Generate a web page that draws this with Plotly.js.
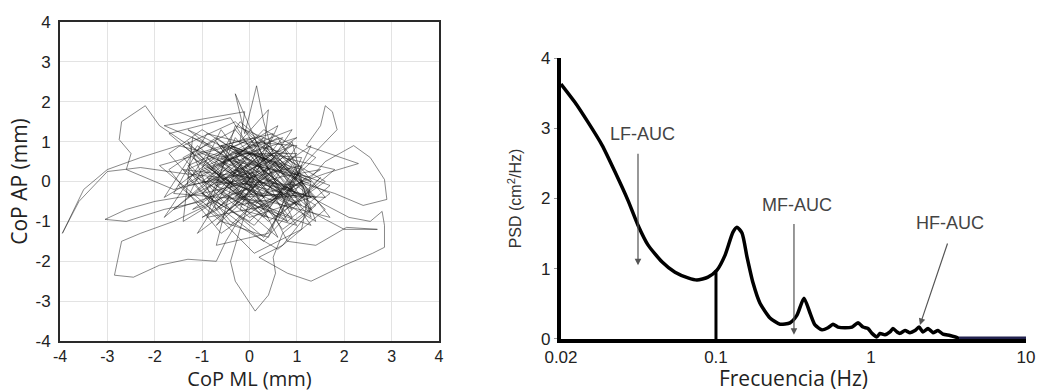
<!DOCTYPE html>
<html>
<head>
<meta charset="utf-8">
<script src="https://cdn.plot.ly/plotly-3.0.1.min.js"></script>
<style>
  html, body { margin: 0; padding: 0; background: #ffffff; }
  #chart { width: 1044px; height: 392px; }
</style>
</head>
<body>
<div id="chart"></div>
<script>
// ---------- Left panel: CoP trajectory (ML, AP) in mm ----------
const copPath = [
  [0.0,0.1],[-0.6,0.9],[0.5,1.2],[-0.3,-0.6],[1.2,-0.3],[0.1,0.8],[-1.3,0.1],[-0.4,-1.1],[0.9,0.4],[-0.2,1.5],
  [-0.8,0.3],[0.6,-0.9],[1.5,0.1],[0.3,-1.5],[-0.9,-0.4],[-1.7,0.7],[-1.0,1.3],[0.2,0.4],[1.3,-0.7],[0.7,-1.6],
  [0.2,-1.9],[0.8,-2.3],[1.3,-2.5],[2.0,-2.1],[2.6,-1.8],[2.85,-1.65],[2.85,-1.1],[2.8,-0.75],[2.55,-1.0],[2.1,-0.9],
  [1.3,-0.4],[0.6,-0.1],
  [-0.3,0.6],[1.0,1.1],[-1.2,-0.7],[-0.1,-0.2],[0.8,0.7],[-0.9,1.2],[-1.6,-0.3],[0.4,-0.5],[1.7,-0.9],[0.9,0.3],
  [-0.4,0.9],[-1.9,0.4],[-0.6,-0.9],[0.3,0.1],[1.3,0.9],[0.4,-1.3],[-0.7,-1.6],[-0.3,0.3],[0.9,-0.2],[-1.0,0.7],
  [-1.4,1.0],[-1.9,1.4],[-2.2,1.9],[-2.7,1.5],[-2.75,1.05],[-2.5,0.7],[-2.6,0.3],[-2.2,0.1],[-1.6,-0.2],[-0.9,0.0],
  [-0.4,0.7],[0.6,1.4],[-0.2,-0.7],[1.0,-1.1],[0.0,0.3],[-1.2,1.1],[-1.4,-1.0],[-0.3,-0.2],[0.7,0.6],[1.8,0.3],
  [0.9,-0.6],[-0.6,0.4],[0.3,1.1],[-0.9,-0.6],[0.1,-1.8],[1.1,-1.2],[1.3,0.0],[-0.1,0.8],[-1.3,-0.1],[0.4,0.3],
  [0.0,1.4],[-0.3,2.2],[-0.1,1.2],[0.15,2.4],[0.3,1.5],[0.5,0.7],
  [-0.3,0.0],[1.1,-0.4],[-0.7,1.1],[-1.7,0.3],[-0.6,-1.3],[0.6,-0.3],[1.4,0.6],[0.3,1.3],[-1.0,-0.3],[0.0,-1.0],
  [1.0,0.1],[-0.4,0.6],[-1.8,-0.4],[-1.1,0.9],[0.1,-0.3],[1.6,-0.4],[0.7,0.9],[-0.3,1.4],[-0.9,-0.9],[0.4,-0.6],
  [1.2,0.5],[1.6,1.0],[1.85,1.3],[1.75,1.75],[1.6,1.9],[1.5,1.4],[1.2,0.9],[2.3,0.45],[1.6,0.2],[0.9,-0.1],
  [0.3,0.7],[-0.7,-0.1],[0.8,-1.0],[1.7,-0.1],[0.6,0.4],[-0.4,-0.7],[-1.4,0.6],[-0.3,1.3],[0.7,-0.1],[1.3,-1.1],
  [0.1,-0.6],[-1.0,0.3],[-0.1,0.7],[1.1,0.6],[0.4,-1.4],[-0.6,-1.0],[-1.5,-0.1],[-0.4,0.9],[0.6,0.0],[1.4,-0.6],
  [0.7,-1.3],[0.5,-1.9],[0.55,-2.3],[0.4,-2.85],[0.12,-3.25],[-0.3,-2.5],[-0.4,-2.0],[-0.2,-1.2],[0.0,-0.5],
  [-0.9,0.4],[0.3,1.0],[1.0,-0.4],[-0.3,-0.3],[-1.3,1.0],[-0.7,-0.7],[0.6,0.7],[1.6,0.0],[0.4,-1.0],[-0.6,0.1],
  [-1.7,1.2],[-0.4,1.6],[0.3,0.3],[1.3,-0.9],[0.9,1.0],[-0.1,-0.4],[-1.1,-1.3],[-0.1,0.6],[0.7,-0.3],[-0.3,1.1],
  [-0.9,-0.6],[-1.6,-1.0],[-2.3,-1.3],[-2.7,-1.5],[-2.85,-2.35],[-2.45,-2.4],[-1.9,-2.1],[-1.3,-1.95],[-0.7,-2.0],[-0.5,-1.5],
  [-0.2,-0.9],
  [0.4,-0.3],[-0.6,0.9],[1.1,0.3],[0.1,-1.1],[-1.0,-0.3],[0.0,0.7],[0.9,-0.7],[-0.4,0.0],[-1.4,0.9],[-0.3,1.5],
  [0.7,0.4],[1.6,-0.7],[0.6,-1.7],[-0.4,-1.0],[-1.3,0.3],[-0.1,1.0],[1.0,0.9],[0.3,-0.4],[-0.7,0.6],[1.3,0.1],
  [1.6,0.5],[2.2,0.9],[2.55,0.6],[2.85,0.05],[2.9,-0.45],[2.4,-0.6],[1.8,-0.3],[1.0,0.0],
  [0.4,0.6],[-0.9,0.0],[0.0,-0.9],[1.3,-0.4],[0.6,1.1],[-0.4,0.4],[-1.6,-0.7],[-0.6,-0.3],[0.3,0.9],[1.1,-0.1],
  [0.1,-0.7],[-1.2,0.6],[-0.3,-0.1],[0.9,0.6],[1.4,-1.0],[0.4,-0.3],[-0.6,1.3],[-1.3,-0.4],[0.0,0.4],[1.0,-0.6],
  [-0.5,0.6],[-1.5,0.9],[-2.3,0.6],[-3.0,0.3],[-3.5,-0.2],[-3.95,-1.3],[-3.6,-0.5],[-3.0,0.25],[-2.3,0.35],[-1.4,0.2],
  [-0.6,0.1],
  [0.3,-0.4],[-0.4,0.7],[0.9,1.3],[0.0,-0.3],[-1.0,-0.9],[0.6,0.3],[1.7,-0.3],[0.7,-1.2],[-0.3,0.4],[-1.3,1.3],
  [-0.1,0.6],[1.1,0.0],[0.3,-1.4],[-0.7,-0.4],[0.4,0.9],[1.3,-0.4],[-0.6,0.3],[-1.8,-0.9],[-0.9,0.7],[0.1,0.0],
  [-1.0,-0.3],[-2.0,-0.5],[-2.6,-0.7],[-3.05,-0.95],[-2.6,-1.0],[-1.8,-0.7],[-1.0,-0.5],
  [-0.3,0.3],[0.7,-0.3],[-0.1,1.3],[1.0,0.4],[0.3,-0.9],[-0.9,0.6],[0.0,-0.1],[1.3,-0.7],[0.4,0.7],[-0.6,-0.6],
  [-1.3,0.4],[0.1,1.1],[0.9,-0.9],[-0.3,-0.3],[0.6,0.1],[1.5,0.3],[0.3,-0.6],[-0.7,1.0],[-0.1,0.0],[1.1,-0.1],
  [1.2,-0.7],[2.0,-1.2],[2.7,-1.2],[2.05,-1.15],[1.4,-1.6],[0.8,-1.5],[0.5,-0.8],
  [-0.1,0.4],[0.9,0.9],[-0.6,-0.3],[0.4,-0.9],[-1.1,0.7],[0.0,1.1],[1.1,-0.6],[0.1,0.1],[-0.7,-1.1],[0.7,0.4],
  [-0.4,0.9],[1.3,0.0],[0.3,-0.3],[-0.9,0.1],[0.6,-1.4],[-0.3,0.7],[1.0,0.7],[-0.1,-0.6],[-1.4,0.3],[0.0,0.1],
  [-0.8,0.9],[-1.8,1.4],[-0.1,1.75],[-0.2,1.0],[0.4,1.8],[0.3,0.8],
  [1.2,0.1],[0.3,-0.7],[-0.6,0.6],[0.7,1.1],[-0.3,-0.4],[1.0,-0.3],[0.0,0.9],[-1.0,0.0],[0.4,-0.1],[1.4,-0.4],
  [0.6,0.6],[-0.4,0.1],[0.8,-1.0],[0.1,0.7],[-0.7,-0.1],[1.1,0.4],[0.9,-0.2],[0.85,-0.05],[0.95,0.0],[0.6,-1.0]
];
const copML = copPath.map(p => p[0]);
const copAP = copPath.map(p => p[1]);
const copTickVals = [-4, -3, -2, -1, 0, 1, 2, 3, 4];
const copTickText = ['-4', '-3', '-2', '-1', '0', '1', '2', '3', '4'];

// ---------- Right panel: PSD vs frequency (axis units; first tick is labelled 0.02) ----------
const psdFreq = [0.0100,0.0123,0.0149,0.0184,0.0223,0.0271,0.0314,0.0364,0.0448,0.0544,
                 0.0660,0.0754,0.0888,0.1015,0.1143,0.1287,0.1366,0.1472,0.1585,0.1733,
                 0.1923,0.2231,0.2588,0.3002,0.3331,0.3696,0.4042,0.4352,0.4830,0.528,
                 0.5687,0.6126,0.6797,0.7542,0.8246,0.8879,0.9564,1.015,1.093,1.143,
                 1.231,1.326,1.387,1.472,1.539,1.658,1.785,1.923,2.040,2.166,
                 2.332,2.512,2.705,2.914,3.234,3.587,3.70];
const psdPower = [3.63,3.37,3.09,2.76,2.38,1.97,1.62,1.34,1.10,0.95,
                  0.87,0.84,0.88,0.98,1.19,1.52,1.59,1.51,1.17,0.80,
                  0.51,0.30,0.21,0.23,0.34,0.58,0.37,0.20,0.13,0.16,
                  0.21,0.17,0.16,0.17,0.23,0.17,0.15,0.08,0.03,0.08,
                  0.06,0.10,0.15,0.10,0.08,0.12,0.09,0.12,0.17,0.10,
                  0.15,0.09,0.12,0.07,0.05,0.02,0.0];
const psdTickVals = [0.01, 0.1, 1, 10];
const psdTickText = ['0.02', '0.1', '1', '10'];
const bandLineFreq = [0.1, 0.1];
const bandLinePower = [0, 0.98];
const baselineFreq = [3.7, 10];
const baselinePower = [0, 0];

// Band labels and arrows (frequency, PSD)
const bandNames = ['LF-AUC', 'MF-AUC', 'HF-AUC'];
const labelFreq = [0.0338, 0.3331, 3.234];
const labelPower = [2.92, 1.91, 1.65];
const arrowTailFreq = [0.0314, 0.3185, 3.14];
const arrowTailPower = [2.66, 1.66, 1.38];
const arrowHeadFreq = [0.0314, 0.3185, 2.07];
const arrowHeadPower = [1.05, 0.06, 0.20];

const leftTickFont = {family: 'Liberation Sans, Arial, sans-serif', size: 16, color: '#222'};
const rightTickFont = {family: 'Liberation Sans, Arial, sans-serif', size: 17, color: '#222'};
const titleFamily = 'Open Sans, Liberation Sans, sans-serif';

const traces = [
  {x: copML, y: copAP, type: 'scatter', mode: 'lines', xaxis: 'x', yaxis: 'y',
   line: {color: 'rgba(20,20,20,0.5)', width: 1}, hoverinfo: 'skip'},
  {x: psdFreq, y: psdPower, type: 'scatter', mode: 'lines', xaxis: 'x2', yaxis: 'y2',
   line: {color: '#000', width: 3.5, shape: 'spline', smoothing: 0.6}},
  {x: bandLineFreq, y: bandLinePower, type: 'scatter', mode: 'lines', xaxis: 'x2', yaxis: 'y2',
   line: {color: '#000', width: 3}},
  {x: baselineFreq, y: baselinePower, type: 'scatter', mode: 'lines', xaxis: 'x2', yaxis: 'y2',
   line: {color: '#23234f', width: 5}}
];

const annotations = [];
bandNames.forEach((name, i) => {
  annotations.push({
    xref: 'x2', yref: 'y2', x: Math.log10(labelFreq[i]), y: labelPower[i],
    text: name, showarrow: false,
    font: {family: 'Liberation Sans, Arial, sans-serif', size: 18, color: '#444'}
  });
  annotations.push({
    xref: 'x2', yref: 'y2', x: Math.log10(arrowHeadFreq[i]), y: arrowHeadPower[i],
    axref: 'x2', ayref: 'y2', ax: Math.log10(arrowTailFreq[i]), ay: arrowTailPower[i],
    text: '', showarrow: true, arrowhead: 2, arrowsize: 1.1, arrowwidth: 1.2, arrowcolor: '#555'
  });
});

const layout = {
  width: 1044, height: 392,
  margin: {l: 60, r: 18, t: 22, b: 51},
  paper_bgcolor: '#ffffff', plot_bgcolor: '#ffffff',
  showlegend: false,
  font: {family: 'Liberation Sans, Arial, sans-serif', color: '#222'},
  xaxis: {
    domain: [0, 0.3923], anchor: 'y', range: [-4, 4],
    tickvals: copTickVals, ticktext: copTickText, showgrid: true, gridcolor: '#e3e3e3', gridwidth: 1,
    zeroline: false, showline: true, mirror: true, linecolor: '#2a2a2a', linewidth: 2,
    ticks: '', tickfont: leftTickFont,
    title: {text: 'CoP ML (mm)', font: {family: titleFamily, size: 20, color: '#222'}, standoff: 12}
  },
  yaxis: {
    domain: [0, 1], anchor: 'x', range: [-4, 4],
    tickvals: copTickVals, ticktext: copTickText, showgrid: true, gridcolor: '#e3e3e3', gridwidth: 1,
    zeroline: false, showline: true, mirror: true, linecolor: '#2a2a2a', linewidth: 2,
    ticks: 'outside', ticklen: 4, tickcolor: 'rgba(0,0,0,0)', tickfont: rightTickFont,
    title: {text: 'CoP AP (mm)', font: {family: titleFamily, size: 21, color: '#222'}, standoff: 2}
  },
  xaxis2: {
    domain: [0.5186, 1], anchor: 'y2', type: 'log', range: [-2, 1],
    tickvals: psdTickVals, ticktext: psdTickText, showgrid: false, zeroline: false,
    showline: true, linecolor: '#000', linewidth: 4, ticks: '', tickfont: rightTickFont,
    title: {text: 'Frecuencia (Hz)', font: {family: titleFamily, size: 21, color: '#222'}, standoff: 12}
  },
  yaxis2: {
    domain: [0.0063, 0.8871], anchor: 'x2', range: [0, 4], dtick: 1,
    showgrid: false, zeroline: false, showline: true, linecolor: '#000', linewidth: 4,
    ticks: 'outside', ticklen: 3, tickcolor: '#999', tickfont: rightTickFont,
    title: {text: 'PSD (cm<sup>2</sup>/Hz)', font: {family: 'Liberation Sans, Arial, sans-serif', size: 16, color: '#333'}, standoff: 16}
  },
  annotations: annotations
};

Plotly.newPlot('chart', traces, layout, {staticPlot: true, displayModeBar: false});
</script>
</body>
</html>
